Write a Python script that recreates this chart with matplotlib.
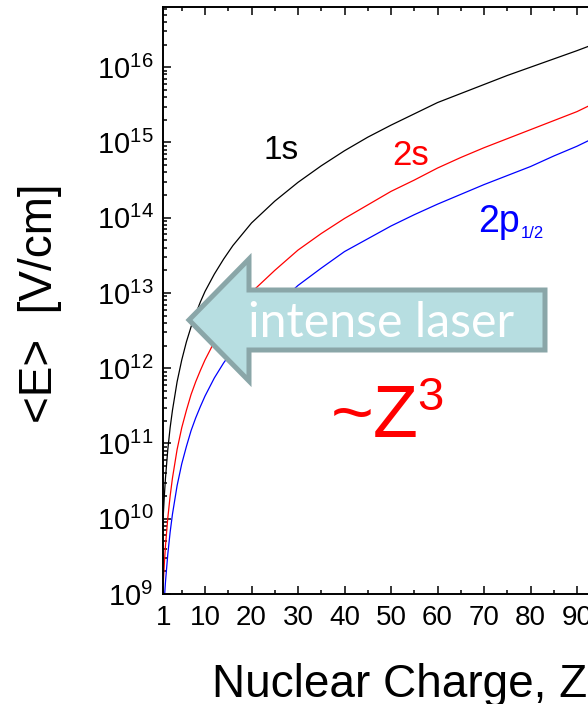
import numpy as np
import matplotlib
matplotlib.use("Agg")
import matplotlib.pyplot as plt
from matplotlib.patches import Polygon
from matplotlib.ticker import FixedLocator, LogLocator, FuncFormatter, NullFormatter

plt.rcParams['font.family'] = ['Liberation Sans', 'DejaVu Sans']
plt.rcParams['mathtext.fontset'] = 'custom'
plt.rcParams['mathtext.rm'] = 'Liberation Sans'
plt.rcParams['mathtext.it'] = 'Liberation Sans:italic'

# ---- data ----
Z = [1, 1.25, 1.5, 2, 2.5, 3, 4, 5, 6, 7, 8, 9, 10, 12, 14, 16, 18, 20, 25, 30,
     35, 40, 45, 50, 55, 60, 65, 70, 75, 80, 85, 90, 93]
log_E_1s = [10.01, 10.30, 10.54, 10.92, 11.21, 11.44, 11.82, 12.11, 12.35, 12.55,
            12.72, 12.88, 13.02, 13.25, 13.45, 13.63, 13.78, 13.93, 14.22, 14.47,
            14.69, 14.89, 15.07, 15.23, 15.38, 15.53, 15.65, 15.77, 15.89, 16.00,
            16.11, 16.22, 16.29]
log_E_2s = [9.11, 9.40, 9.64, 10.01, 10.30, 10.54, 10.92, 11.21, 11.44, 11.65,
            11.82, 11.97, 12.11, 12.35, 12.55, 12.72, 12.88, 13.01, 13.30, 13.57,
            13.79, 13.99, 14.17, 14.35, 14.50, 14.66, 14.80, 14.93, 15.05, 15.17,
            15.29, 15.41, 15.50]
log_E_2p = [8.63, 8.92, 9.16, 9.53, 9.82, 10.06, 10.44, 10.73, 10.96, 11.17,
            11.34, 11.49, 11.63, 11.87, 12.07, 12.24, 12.40, 12.53, 12.82, 13.10,
            13.33, 13.55, 13.72, 13.89, 14.04, 14.18, 14.31, 14.44, 14.56, 14.68,
            14.82, 14.95, 15.04]
x_major = [1, 10, 20, 30, 40, 50, 60, 70, 80, 90, 100]
x_minor = [5, 15, 25, 35, 45, 55, 65, 75, 85, 95]
y_exponents = [9, 10, 11, 12, 13, 14, 15, 16]

W, H = 588, 704
fig = plt.figure(figsize=(W / 100, H / 100), dpi=100)

def fx(px):
    return px / W

def fy(py):
    return 1 - py / H

# axes: Z=1 at px 163.15, Z=100 at px 623.5 (beyond the image edge, as in the reference)
ax_l, ax_r, ax_t, ax_b = 163.15, 623.5, 7.0, 594.0
ax = fig.add_axes([fx(ax_l), fy(ax_b), (ax_r - ax_l) / W, (ax_b - ax_t) / H])

ax.plot(Z, np.power(10.0, log_E_1s), color='black', lw=0.9)
ax.plot(Z, np.power(10.0, log_E_2s), color='#ff0000', lw=0.9)
ax.plot(Z, np.power(10.0, log_E_2p), color='#0000ff', lw=0.9)

ax.set_yscale('log')
ax.set_xlim(1, 100)
ax.set_ylim(1e9, 10 ** 16.8)

ax.xaxis.set_major_locator(FixedLocator(x_major))
ax.xaxis.set_minor_locator(FixedLocator(x_minor))
ax.set_xticklabels([str(v) for v in x_major])
ax.yaxis.set_major_locator(FixedLocator([10.0 ** e for e in y_exponents]))
ax.yaxis.set_minor_locator(LogLocator(base=10, subs=np.arange(2, 10)))
ax.yaxis.set_minor_formatter(NullFormatter())
ax.yaxis.set_major_formatter(FuncFormatter(
    lambda v, p: r'$\mathregular{10^{%d}}$' % int(round(np.log10(v)))))

ax.tick_params(axis='both', which='both', direction='in', top=True, right=True,
               width=1.1, color='black')
ax.tick_params(axis='both', which='major', length=5.5)
ax.tick_params(axis='both', which='minor', length=3.0)
ax.tick_params(axis='x', which='major', labelsize=20, pad=8)
ax.tick_params(axis='y', which='major', labelsize=21, pad=7)
for s in ax.spines.values():
    s.set_linewidth(1.4)

# axis labels
ax.set_ylabel('<E>  [V/cm]', fontsize=33)
ax.yaxis.label.set_rotation_mode('default')
ax.yaxis.label.set_va('center')
ax.yaxis.label.set_ha('center')
ax.yaxis.set_label_coords((40 - ax_l) / (ax_r - ax_l), (ax_b - 303) / (ax_b - ax_t))

ax.set_xlabel('Nuclear Charge, Z', fontsize=33)
ax.xaxis.label.set_ha('left')
ax.xaxis.label.set_va('baseline')
ax.xaxis.set_label_coords((212 - ax_l) / (ax_r - ax_l), (ax_b - 697) / (ax_b - ax_t))

# curve labels
fig.text(fx(263), fy(159), '1s', color='black', fontsize=24, ha='left', va='baseline')
fig.text(fx(392), fy(165), '2s', color='#ff0000', fontsize=25, ha='left', va='baseline')
t2p = fig.text(fx(478), fy(232), '2p', color='#0000ff', fontsize=27, ha='left',
               va='baseline')

# ~Z^3
fig.text(fx(331), fy(437), '~Z', color='#ff0000', fontsize=53, ha='left', va='baseline')
fig.text(fx(417), fy(410), '3', color='#ff0000', fontsize=34, ha='left', va='baseline')

# arrow "intense laser"
arrow_px = [(189, 320), (249, 259), (249, 290), (545, 290), (545, 350),
            (249, 350), (249, 381)]
arrow = Polygon([(fx(x), fy(y)) for x, y in arrow_px], closed=True,
                transform=fig.transFigure, facecolor='#b7dee1', edgecolor='#8aa6a8',
                linewidth=3.6, joinstyle='miter', zorder=5)
fig.add_artist(arrow)
t = fig.text(fx(248), fy(337), 'intense laser', color='white', fontsize=34,
             family=['Lato', 'DejaVu Sans'], ha='left', va='baseline', zorder=6)
r = fig.canvas.get_renderer()
w = t.get_window_extent(r).width
t.set_fontsize(34 * 267.0 / w)

# subscript of 2p placed right after the "2p" glyphs
bb = t2p.get_window_extent(r)
fig.text((bb.x1 + 1) / W, fy(238), '1/2', color='#0000ff', fontsize=12, ha='left',
         va='baseline')

fig.savefig('out.png', dpi=100)
